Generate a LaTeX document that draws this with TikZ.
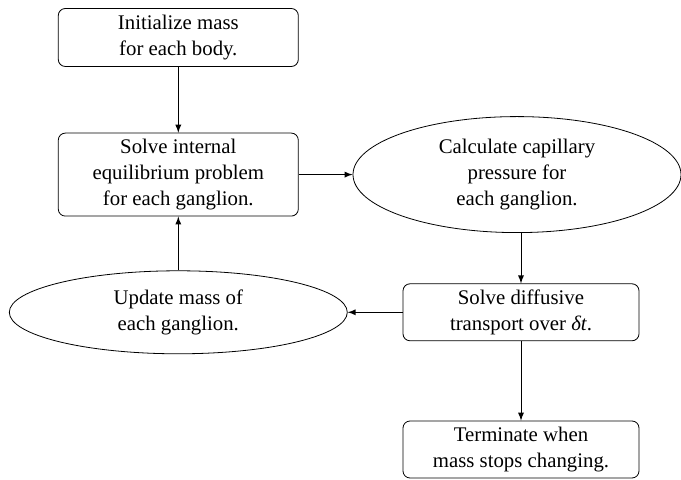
\documentclass[tikz,border=0pt]{standalone}
\usepackage{fontspec}
\setmainfont{Liberation Serif}
\usetikzlibrary{shapes.geometric}
\newcommand{\flowFont}{\fontsize{10.4}{12.9}\selectfont}

\begin{document}
\begin{tikzpicture}[x=0.5pt,y=-0.5pt,>=latex,
  procbox/.style={draw, rounded corners=3.5pt, align=center, inner sep=0pt,
    minimum width=120pt, font=\flowFont},
  procell/.style={draw, ellipse, align=center, inner sep=0pt, font=\flowFont}]
\useasboundingbox (0,0) rectangle (681,480);
\node[procbox, minimum height=29pt] (init) at (178.3,37.5) {Initialize mass\\for each body.};
\node[procbox, minimum height=41.5pt] (solve) at (178.3,174.6) {Solve internal\\equilibrium problem\\for each ganglion.};
\node[procell, minimum width=164pt, minimum height=58pt] (capil) at (517,174.6) {Calculate capillary\\pressure for\\each ganglion.};
\node[procbox, minimum width=118pt, minimum height=28.5pt] (diffuse) at (521,312.3) {Solve diffusive\\transport over \textit{δt}.};
\node[procell, minimum width=169pt, minimum height=41.5pt] (update) at (178.3,312.3) {Update mass of\\each ganglion.};
\node[procbox, minimum width=118pt, minimum height=28.5pt] (term) at (521,449.5) {Terminate when\\mass stops changing.};
\draw[->] (init.south) -- (solve.north);
\draw[->] (solve.east) -- (capil.west);
\draw[->] (capil.south -| diffuse.north) -- (diffuse.north);
\draw[->] (diffuse.west) -- (update.east);
\draw[->] (diffuse.south) -- (term.north);
\draw[->] (update.north) -- (solve.south);
\end{tikzpicture}
\end{document}
